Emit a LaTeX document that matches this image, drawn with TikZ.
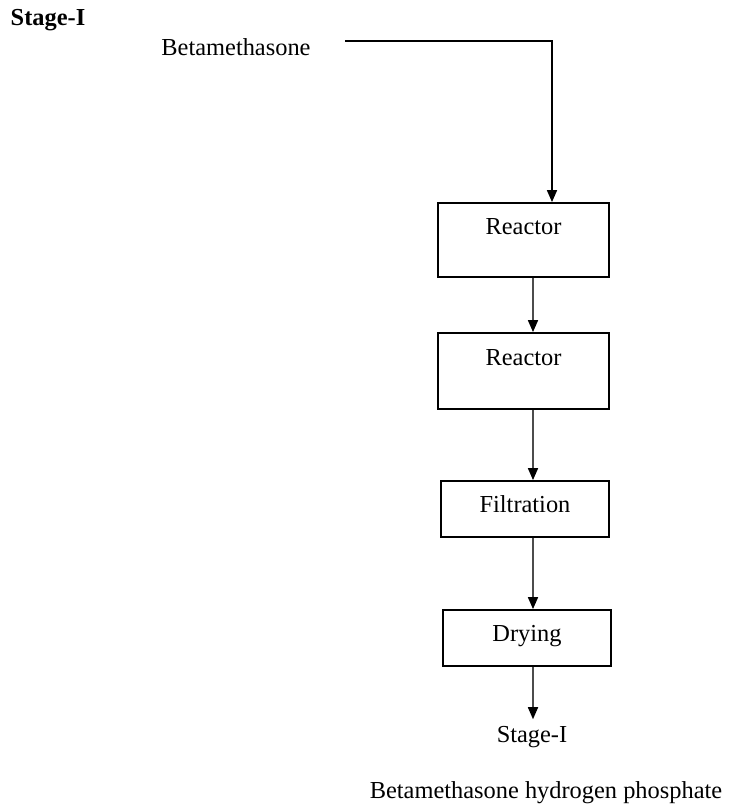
\documentclass[tikz,border=0pt]{standalone}
\usepackage{fontspec}
\setmainfont{Liberation Serif}
\usetikzlibrary{arrows.meta}

\begin{document}
\begin{tikzpicture}[x=0.5pt,y=-0.5pt,font=\fontsize{12.2}{14}\selectfont,
  unit/.style={draw,line width=0.9pt,inner sep=0pt,text height=8pt},
  flow/.style={line width=0.8pt,draw=gray!60!black,-{Triangle[black,length=6pt,width=5pt]}}]
  \useasboundingbox (0,0) rectangle (730,805);
  \node[font=\fontsize{12.2}{14}\selectfont\bfseries] (stage) at (48,20) {Stage-I};
  \node (feed) at (236,47) {Betamethasone};
  \coordinate (src) at (345,41);
  \coordinate (bend) at (552,41);
  \coordinate (axis) at (533,0);
  % process units
  \node[unit,minimum width=85.5pt,minimum height=37pt,text depth=14pt] (reactA) at (523.5,240) {Reactor};
  \node[unit,minimum width=85.5pt,minimum height=38pt,text depth=14pt] (reactB) at (523.5,371) {Reactor};
  \node[unit,minimum width=84pt,minimum height=28pt,text depth=5pt] (filter) at (525,509) {Filtration};
  \node[unit,minimum width=84pt,minimum height=28pt,text depth=5pt] (dry) at (527,638) {Drying};
  \node (out) at (532,737) {Stage-I};
  \node (product) at (546,793) {Betamethasone hydrogen phosphate};
  % connectors
  \draw[line width=0.8pt,-{Triangle[length=6pt,width=5pt]}] (src) -- (bend) -- (reactA.north -| bend);
  \draw[flow] (reactA.south -| axis) -- (reactB.north -| axis);
  \draw[flow] (reactB.south -| axis) -- (filter.north -| axis);
  \draw[flow] (filter.south -| axis) -- (dry.north -| axis);
  \draw[flow] (dry.south -| axis) -- (out.north -| axis);
\end{tikzpicture}
\end{document}
